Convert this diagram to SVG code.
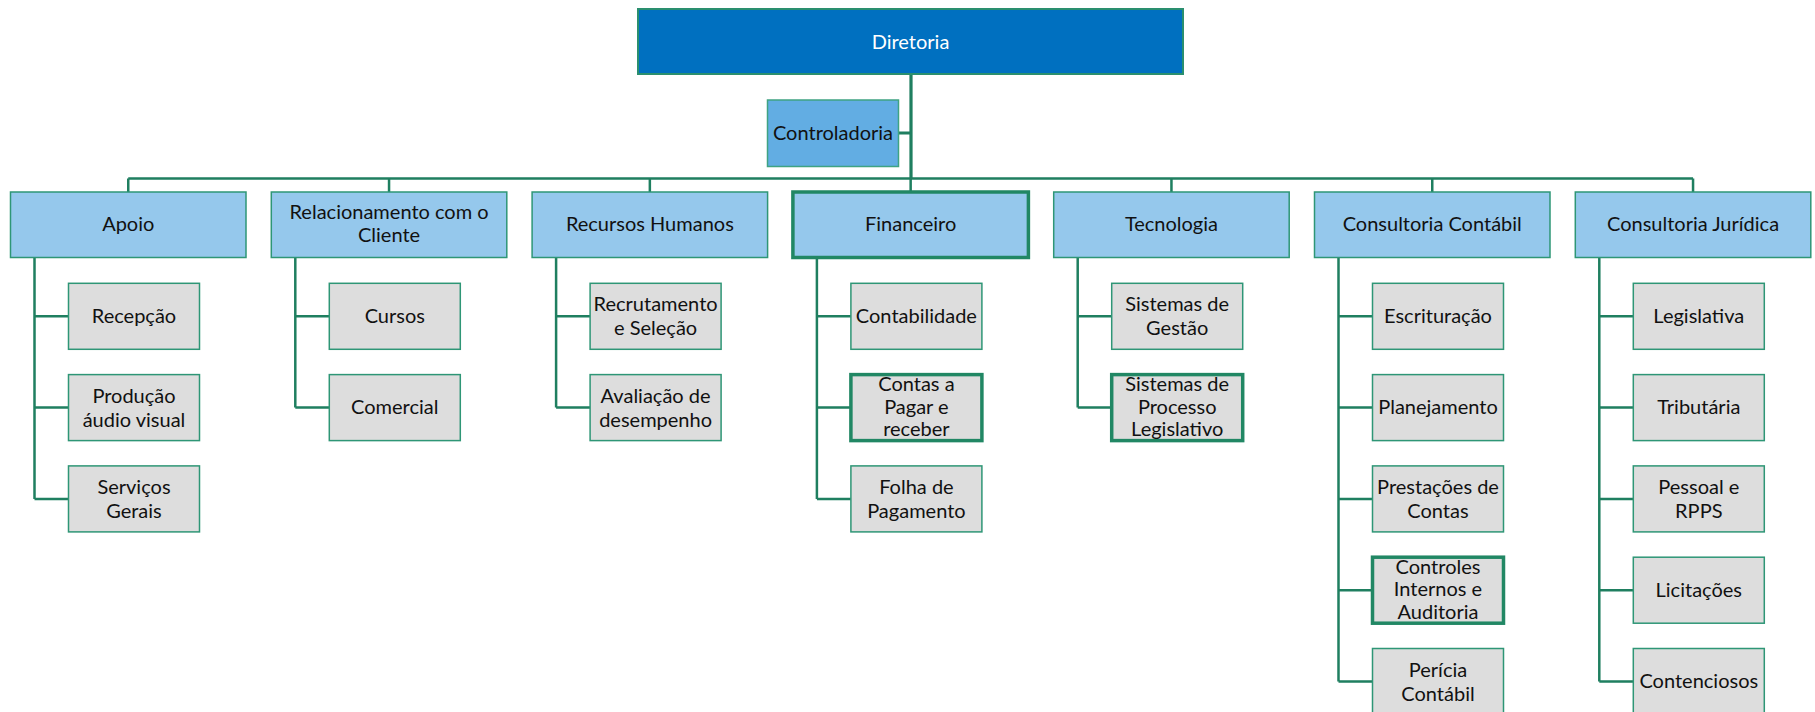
<svg xmlns="http://www.w3.org/2000/svg" width="1815" height="712" viewBox="0 0 1815 712">
  <style>
    text { font-family: Lato, "Liberation Sans", sans-serif; font-size: 20px; fill: #111; text-anchor: middle; }
    .top { fill: #0070C0; stroke: #2a8f6f; stroke-width: 2; }
    .top-t { fill: #ffffff; }
    .ctrl { fill: #62ADE3; stroke: #3fa383; stroke-width: 1.5; }
    .dept { fill: #95C8EC; stroke: #2e9676; stroke-width: 1.5; }
    .unit { fill: #DDDDDD; stroke: #2e9676; stroke-width: 1.5; }
    .bold { stroke: #218764; stroke-width: 3.5; }
    .wire { fill: none; stroke: #1f7f60; stroke-width: 2.5; }
    .trunk { stroke-width: 3.2; }
  </style>

  <!-- connectors -->
  <g id="connectors">
    <path class="wire trunk" d="M911 74 V178.5 M898 133 H911"/>
    <path class="wire" d="M128.25 178.5 H1693.05 M128.25 178.5 V192 M389.05 178.5 V192 M649.85 178.5 V192 M910.65 178.5 V192 M1171.45 178.5 V192 M1432.25 178.5 V192 M1693.05 178.5 V192"/>
    <!-- Apoio -->
    <path class="wire" d="M34.5 257.5 V498.9 M34.5 316.3 H68.5 M34.5 407.6 H68.5 M34.5 498.9 H68.5"/>
    <!-- Relacionamento com o Cliente -->
    <path class="wire" d="M295.3 257.5 V407.6 M295.3 316.3 H329.3 M295.3 407.6 H329.3"/>
    <!-- Recursos Humanos -->
    <path class="wire" d="M556.1 257.5 V407.6 M556.1 316.3 H590.1 M556.1 407.6 H590.1"/>
    <!-- Financeiro -->
    <path class="wire" d="M816.9 257.5 V498.9 M816.9 316.3 H850.9 M816.9 407.6 H850.9 M816.9 498.9 H850.9"/>
    <!-- Tecnologia -->
    <path class="wire" d="M1077.7 257.5 V407.6 M1077.7 316.3 H1111.7 M1077.7 407.6 H1111.7"/>
    <!-- Consultoria Contábil -->
    <path class="wire" d="M1338.5 257.5 V681.5 M1338.5 316.3 H1372.5 M1338.5 407.6 H1372.5 M1338.5 498.9 H1372.5 M1338.5 590.2 H1372.5 M1338.5 681.5 H1372.5"/>
    <!-- Consultoria Jurídica -->
    <path class="wire" d="M1599.3 257.5 V681.5 M1599.3 316.3 H1633.3 M1599.3 407.6 H1633.3 M1599.3 498.9 H1633.3 M1599.3 590.2 H1633.3 M1599.3 681.5 H1633.3"/>
  </g>

  <!-- head -->
  <g id="diretoria">
    <rect class="top" x="638" y="9" width="545" height="65"/>
    <text class="top-t" x="910.5" y="48.5">Diretoria</text>
  </g>
  <g id="controladoria">
    <rect class="ctrl" x="767.5" y="100" width="131" height="66.5"/>
    <text x="833" y="140">Controladoria</text>
  </g>

  <!-- departments -->
  <g id="apoio">
    <rect class="dept" x="10.5" y="192" width="235.5" height="65.5"/>
    <text x="128.25" y="231">Apoio</text>
  </g>
  <g id="relacionamento">
    <rect class="dept" x="271.3" y="192" width="235.5" height="65.5"/>
    <text x="389.05" y="219">Relacionamento com o</text>
    <text x="389.05" y="242">Cliente</text>
  </g>
  <g id="rh">
    <rect class="dept" x="532.1" y="192" width="235.5" height="65.5"/>
    <text x="649.85" y="231">Recursos Humanos</text>
  </g>
  <g id="financeiro">
    <rect class="dept bold" x="792.9" y="192" width="235.5" height="65.5"/>
    <text x="910.65" y="231">Financeiro</text>
  </g>
  <g id="tecnologia">
    <rect class="dept" x="1053.7" y="192" width="235.5" height="65.5"/>
    <text x="1171.45" y="231">Tecnologia</text>
  </g>
  <g id="consultoria-contabil">
    <rect class="dept" x="1314.5" y="192" width="235.5" height="65.5"/>
    <text x="1432.25" y="231">Consultoria Contábil</text>
  </g>
  <g id="consultoria-juridica">
    <rect class="dept" x="1575.3" y="192" width="235.5" height="65.5"/>
    <text x="1693.05" y="231">Consultoria Jurídica</text>
  </g>

  <!-- Apoio units -->
  <g id="recepcao">
    <rect class="unit" x="68.5" y="283.3" width="131" height="66"/>
    <text x="134" y="323">Recepção</text>
  </g>
  <g id="producao">
    <rect class="unit" x="68.5" y="374.6" width="131" height="66"/>
    <text x="134" y="402.6">Produção</text>
    <text x="134" y="426.6">áudio visual</text>
  </g>
  <g id="servicos">
    <rect class="unit" x="68.5" y="465.9" width="131" height="66"/>
    <text x="134" y="493.9">Serviços</text>
    <text x="134" y="517.9">Gerais</text>
  </g>

  <!-- Relacionamento units -->
  <g id="cursos">
    <rect class="unit" x="329.3" y="283.3" width="131" height="66"/>
    <text x="394.8" y="323">Cursos</text>
  </g>
  <g id="comercial">
    <rect class="unit" x="329.3" y="374.6" width="131" height="66"/>
    <text x="394.8" y="414.3">Comercial</text>
  </g>

  <!-- RH units -->
  <g id="recrutamento">
    <rect class="unit" x="590.1" y="283.3" width="131" height="66"/>
    <text x="655.6" y="311.3">Recrutamento</text>
    <text x="655.6" y="335.3">e Seleção</text>
  </g>
  <g id="avaliacao">
    <rect class="unit" x="590.1" y="374.6" width="131" height="66"/>
    <text x="655.6" y="402.6">Avaliação de</text>
    <text x="655.6" y="426.6">desempenho</text>
  </g>

  <!-- Financeiro units -->
  <g id="contabilidade">
    <rect class="unit" x="850.9" y="283.3" width="131" height="66"/>
    <text x="916.4" y="323">Contabilidade</text>
  </g>
  <g id="contas">
    <rect class="unit bold" x="850.9" y="374.6" width="131" height="66"/>
    <text x="916.4" y="391.1">Contas a</text>
    <text x="916.4" y="413.6">Pagar e</text>
    <text x="916.4" y="436.1">receber</text>
  </g>
  <g id="folha">
    <rect class="unit" x="850.9" y="465.9" width="131" height="66"/>
    <text x="916.4" y="493.9">Folha de</text>
    <text x="916.4" y="517.9">Pagamento</text>
  </g>

  <!-- Tecnologia units -->
  <g id="gestao">
    <rect class="unit" x="1111.7" y="283.3" width="131" height="66"/>
    <text x="1177.2" y="311.3">Sistemas de</text>
    <text x="1177.2" y="335.3">Gestão</text>
  </g>
  <g id="processo">
    <rect class="unit bold" x="1111.7" y="374.6" width="131" height="66"/>
    <text x="1177.2" y="391.1">Sistemas de</text>
    <text x="1177.2" y="413.6">Processo</text>
    <text x="1177.2" y="436.1">Legislativo</text>
  </g>

  <!-- Consultoria Contábil units -->
  <g id="escrituracao">
    <rect class="unit" x="1372.5" y="283.3" width="131" height="66"/>
    <text x="1438" y="323">Escrituração</text>
  </g>
  <g id="planejamento">
    <rect class="unit" x="1372.5" y="374.6" width="131" height="66"/>
    <text x="1438" y="414.3">Planejamento</text>
  </g>
  <g id="prestacoes">
    <rect class="unit" x="1372.5" y="465.9" width="131" height="66"/>
    <text x="1438" y="493.9">Prestações de</text>
    <text x="1438" y="517.9">Contas</text>
  </g>
  <g id="controles">
    <rect class="unit bold" x="1372.5" y="557.2" width="131" height="66"/>
    <text x="1438" y="573.7">Controles</text>
    <text x="1438" y="596.2">Internos e</text>
    <text x="1438" y="618.7">Auditoria</text>
  </g>
  <g id="pericia">
    <rect class="unit" x="1372.5" y="648.5" width="131" height="66"/>
    <text x="1438" y="676.5">Perícia</text>
    <text x="1438" y="700.5">Contábil</text>
  </g>

  <!-- Consultoria Jurídica units -->
  <g id="legislativa">
    <rect class="unit" x="1633.3" y="283.3" width="131" height="66"/>
    <text x="1698.8" y="323">Legislativa</text>
  </g>
  <g id="tributaria">
    <rect class="unit" x="1633.3" y="374.6" width="131" height="66"/>
    <text x="1698.8" y="414.3">Tributária</text>
  </g>
  <g id="pessoal">
    <rect class="unit" x="1633.3" y="465.9" width="131" height="66"/>
    <text x="1698.8" y="493.9">Pessoal e</text>
    <text x="1698.8" y="517.9">RPPS</text>
  </g>
  <g id="licitacoes">
    <rect class="unit" x="1633.3" y="557.2" width="131" height="66"/>
    <text x="1698.8" y="596.9">Licitações</text>
  </g>
  <g id="contenciosos">
    <rect class="unit" x="1633.3" y="648.5" width="131" height="66"/>
    <text x="1698.8" y="688.2">Contenciosos</text>
  </g>
</svg>
